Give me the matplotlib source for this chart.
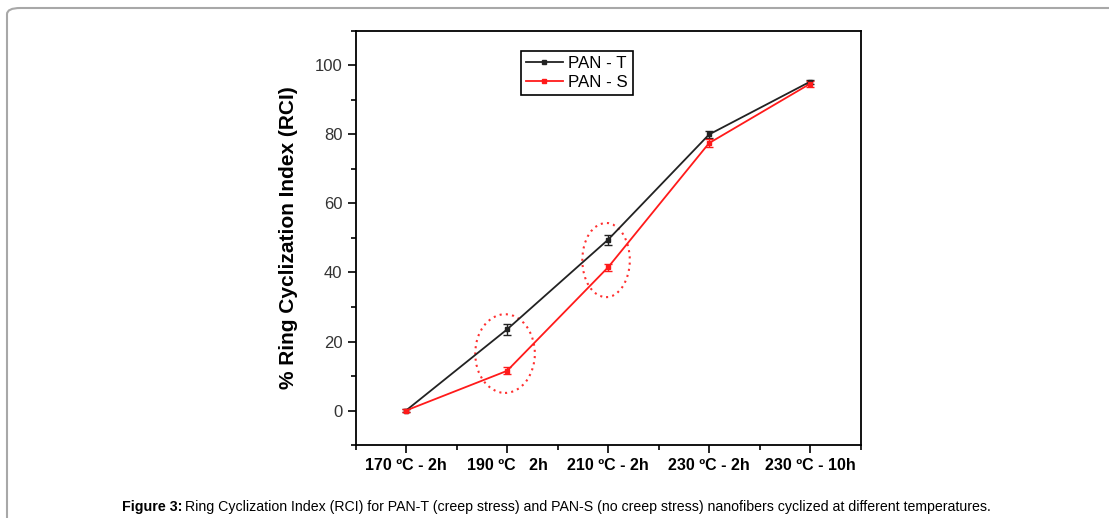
import matplotlib as mpl
import matplotlib.pyplot as plt
from matplotlib.lines import Line2D
from matplotlib.patches import Ellipse, FancyBboxPatch

mpl.rc('font', family=['Liberation Sans', 'DejaVu Sans'])

conditions = ['170 ºC - 2h', '190 ºC   2h', '210 ºC - 2h', '230 ºC - 2h', '230 ºC - 10h']
rci_t = [0.0, 23.5, 49.5, 80.0, 95.3]
err_t = [0.3, 1.5, 1.5, 1.0, 0.6]
rci_s = [0.0, 11.5, 41.5, 77.5, 94.7]
err_s = [0.3, 1.0, 1.0, 1.2, 0.8]

# dotted ellipses: (x center, y center, width, height) in data units
highlights = [(0.98, 16.5, 0.59, 22.8), (1.98, 43.6, 0.47, 21.5)]

fig = plt.figure(figsize=(11.09, 5.18), dpi=100)

# outer grey frame of the figure panel
frame = FancyBboxPatch((7 / 1109, -0.1), 1.2, 1.1 - 8 / 518,
                       boxstyle='round,pad=0,rounding_size=0.012',
                       transform=fig.transFigure, facecolor='none',
                       edgecolor='#a8a8a8', linewidth=1.5, zorder=-1)
fig.patches.append(frame)

ax = fig.add_axes([0.3206, 0.1409, 0.4554, 0.7993])
x = range(len(conditions))

col_t, col_s = '#222222', '#ff1a1a'
ax.errorbar(x, rci_t, yerr=err_t, color=col_t, marker='s', markersize=3.5,
            linewidth=1.3, capsize=3, elinewidth=1, zorder=3)
ax.errorbar(x, rci_s, yerr=err_s, color=col_s, marker='s', markersize=3.5,
            linewidth=1.3, capsize=3, elinewidth=1, zorder=3)

for cx, cy, w, h in highlights:
    ax.add_patch(Ellipse((cx, cy), w, h, fill=False, edgecolor='#ff3030',
                         linestyle=(0, (1, 2)), linewidth=1.5, zorder=2))

ax.set_xlim(-0.5, 4.5)
ax.set_ylim(-10, 110)
ax.set_xticks(list(x))
ax.set_xticklabels(conditions, fontweight='bold', fontsize=11.5)
ax.set_xticks([-0.5 + i for i in range(6)], minor=True)
ax.set_yticks(range(0, 101, 20))
ax.set_yticks(range(-10, 111, 10), minor=True)
ax.tick_params(axis='y', labelsize=12, labelcolor='#333333')
ax.tick_params(which='major', direction='out', length=6, width=1.2)
ax.tick_params(which='minor', direction='out', length=3.5, width=1.2)
for s in ax.spines.values():
    s.set_linewidth(1.3)

ax.set_ylabel('% Ring Cyclization Index (RCI)', fontweight='bold', fontsize=15, labelpad=12)

handles = [Line2D([], [], color=col_t, marker='s', markersize=3.5, linewidth=1.3),
           Line2D([], [], color=col_s, marker='s', markersize=3.5, linewidth=1.3)]
leg = ax.legend(handles, ['PAN - T', 'PAN - S'], loc='upper left',
                bbox_to_anchor=(0.327, 0.952), fontsize=12.2,
                frameon=True, fancybox=False, edgecolor='black', framealpha=1,
                handlelength=2.2, borderpad=0.3, labelspacing=0.25,
                handletextpad=0.3, borderaxespad=0)
leg.get_frame().set_linewidth(1.2)

fig.text(122 / 1109, 1 - 507 / 518, 'Figure 3:', fontsize=10.3, fontweight='bold',
         va='center', ha='left')
fig.text(185 / 1109, 1 - 507 / 518,
         'Ring Cyclization Index (RCI) for PAN-T (creep stress) and PAN-S (no creep stress) nanofibers cyclized at different temperatures.',
         fontsize=10.2, va='center', ha='left')

fig.savefig('out.png', dpi=100)
